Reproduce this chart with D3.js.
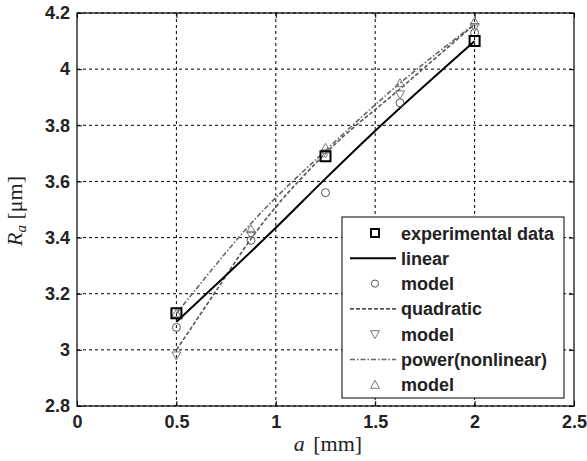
<!DOCTYPE html>
<html>
<head>
<meta charset="utf-8">
<script src="https://cdn.jsdelivr.net/npm/d3@7"></script>
<style>
  body { margin: 0; background: #fff; }
  text { font-family: "Liberation Sans", Arial, sans-serif; }
</style>
</head>
<body>
<svg id="chart" width="587" height="461"></svg>
<script>
// values
const xTicks = [0, 0.5, 1, 1.5, 2, 2.5];
const yTicks = [2.8, 3, 3.2, 3.4, 3.6, 3.8, 4, 4.2];
const aModel = [0.5, 0.875, 1.25, 1.625, 2];
const aExp = [0.5, 1.25, 2];
const raExp = [3.13, 3.69, 4.10];
const raLinear = [3.08, 3.39, 3.56, 3.88, 4.13];
const raQuad = [2.98, 3.41, 3.70, 3.91, 4.15];
const raPower = [3.13, 3.43, 3.72, 3.95, 4.17];
const linearCurveA = [0.5, 1.0, 1.25, 1.53, 2.0];
const linearCurve = [3.10, 3.435, 3.61, 3.80, 4.10];
const quadCurveA = [0.5, 0.69, 0.89, 1.25, 1.625, 2.0];
const quadCurve = [3.00, 3.20, 3.41, 3.70, 3.93, 4.16];
const powerCurveA = [0.5, 0.58, 0.875, 1.25, 1.625, 2.0];
const powerCurve = [3.13, 3.20, 3.45, 3.71, 3.95, 4.16];
const legendLabels = ["experimental data", "linear", "model", "quadratic", "model", "power(nonlinear)", "model"];

const svg = d3.select("#chart");
const pl = 77, pr = 574, pt = 13, pb = 406;

const x = d3.scaleLinear().domain([0, 2.5]).range([pl, pr]);
const y = d3.scaleLinear().domain([2.8, 4.2]).range([pb, pt]);

// grid
svg.append("g").selectAll("line").data(xTicks.slice(1, -1)).enter().append("line")
  .attr("x1", d => x(d)).attr("x2", d => x(d)).attr("y1", pt).attr("y2", pb)
  .attr("stroke", "#000").attr("stroke-dasharray", "3,3");
svg.append("g").selectAll("line").data(yTicks).enter().append("line")
  .attr("x1", pl).attr("x2", pr).attr("y1", d => y(d)).attr("y2", d => y(d))
  .attr("stroke", "#000").attr("stroke-dasharray", "3,3");

// axes with inward ticks
const xAxis = d3.axisBottom(x).tickValues(xTicks).tickSizeInner(-5).tickSizeOuter(0).tickPadding(9)
  .tickFormat(d3.format("~g"));
const yAxis = d3.axisLeft(y).tickValues(yTicks).tickSizeInner(-5).tickSizeOuter(0).tickPadding(7)
  .tickFormat(d3.format("~g"));
const gx = svg.append("g").attr("transform", `translate(0,${pb})`).call(xAxis);
const gy = svg.append("g").attr("transform", `translate(${pl},0)`).call(yAxis);
svg.append("g").attr("transform", `translate(0,${pt})`)
  .call(d3.axisTop(x).tickValues(xTicks).tickSizeInner(-5).tickSizeOuter(0).tickFormat(""));
svg.append("g").attr("transform", `translate(${pr},0)`)
  .call(d3.axisRight(y).tickValues(yTicks).tickSizeInner(-5).tickSizeOuter(0).tickFormat(""));
svg.selectAll(".domain").remove();
svg.selectAll(".tick line").attr("stroke", "#000");
[gx, gy].forEach(g => g.selectAll("text").attr("font-size", 18).attr("font-weight", "bold")
  .attr("fill", "#222").attr("font-family", "'Liberation Sans', Arial, sans-serif"));

svg.append("rect").attr("x", pl).attr("y", pt).attr("width", pr - pl).attr("height", pb - pt)
  .attr("fill", "none").attr("stroke", "#000").attr("stroke-width", 1.2);

// curves
function curve(as, vs, color, dash, width) {
  svg.append("path")
    .datum(as.map((a, i) => [a, vs[i]]))
    .attr("d", d3.line().x(d => x(d[0])).y(d => y(d[1])).curve(d3.curveMonotoneX))
    .attr("fill", "none").attr("stroke", color).attr("stroke-width", width)
    .attr("stroke-dasharray", dash);
}
curve(powerCurveA, powerCurve, "#666", "5,2,1.5,2", 1.6);
curve(quadCurveA, quadCurve, "#555", "4,2", 1.6);
curve(linearCurveA, linearCurve, "#000", null, 2);

// markers
const sym = (type, size) => d3.symbol().type(type).size(size)();
const triDown = "M0,4.5L-4.5,-3.5L4.5,-3.5Z";
const triUp = "M0,-4.5L-4.5,3.5L4.5,3.5Z";

function markers(as, vs, path, stroke, sw) {
  svg.append("g").selectAll("path").data(as).enter().append("path")
    .attr("transform", (a, i) => `translate(${x(a)},${y(vs[i])})`)
    .attr("d", path).attr("fill", "none").attr("stroke", stroke).attr("stroke-width", sw);
}
markers(aModel, raLinear, sym(d3.symbolCircle, 50), "#555", 1);
markers(aModel, raQuad, triDown, "#777", 1);
markers(aModel, raPower, triUp, "#777", 1);
markers(aExp, raExp, "M-5,-5H5V5H-5Z", "#000", 2);

// axis titles
const serif = "'Liberation Serif', 'Times New Roman', serif";
const xt = svg.append("text").attr("x", 328).attr("y", 451).attr("text-anchor", "middle")
  .attr("font-family", serif).attr("font-size", 22).attr("fill", "#222");
xt.append("tspan").attr("font-style", "italic").attr("font-family", serif).text("a");
xt.append("tspan").attr("font-family", serif).attr("dx", 3).text(" [mm]");

const yt = svg.append("text").attr("transform", "translate(22,211) rotate(-90)").attr("text-anchor", "middle")
  .attr("font-family", serif).attr("font-size", 22).attr("fill", "#222");
yt.append("tspan").attr("font-style", "italic").attr("font-family", serif).text("R");
yt.append("tspan").attr("font-style", "italic").attr("font-family", serif)
  .attr("font-size", 15).attr("dy", 4).text("a");
yt.append("tspan").attr("font-family", serif).attr("dy", -4).text(" [μm]");

// legend
const lg = svg.append("g");
lg.append("rect").attr("x", 342).attr("y", 217).attr("width", 222).attr("height", 181)
  .attr("fill", "#fff").attr("stroke", "#000").attr("stroke-width", 1);
const rowY = i => 233 + i * 25.3;
lg.selectAll("text").data(legendLabels).enter().append("text")
  .attr("x", 401).attr("y", (d, i) => rowY(i) + 6.5).attr("font-size", 18).attr("font-weight", "bold")
  .attr("fill", "#222").text(d => d);
const lx = 375;
lg.append("path").attr("d", "M-4,-4H4V4H-4Z").attr("transform", `translate(${lx},${rowY(0)})`)
  .attr("fill", "none").attr("stroke", "#000").attr("stroke-width", 2);
lg.append("line").attr("x1", 350).attr("x2", 396).attr("y1", rowY(1)).attr("y2", rowY(1))
  .attr("stroke", "#000").attr("stroke-width", 2);
lg.append("path").attr("d", sym(d3.symbolCircle, 40)).attr("transform", `translate(${lx},${rowY(2)})`)
  .attr("fill", "none").attr("stroke", "#555");
lg.append("line").attr("x1", 350).attr("x2", 396).attr("y1", rowY(3)).attr("y2", rowY(3))
  .attr("stroke", "#555").attr("stroke-width", 1.6).attr("stroke-dasharray", "4,2");
lg.append("path").attr("d", triDown).attr("transform", `translate(${lx},${rowY(4)})`)
  .attr("fill", "none").attr("stroke", "#777");
lg.append("line").attr("x1", 350).attr("x2", 396).attr("y1", rowY(5)).attr("y2", rowY(5))
  .attr("stroke", "#666").attr("stroke-width", 1.6).attr("stroke-dasharray", "5,2,1.5,2");
lg.append("path").attr("d", triUp).attr("transform", `translate(${lx},${rowY(6)})`)
  .attr("fill", "none").attr("stroke", "#777");
</script>
</body>
</html>
